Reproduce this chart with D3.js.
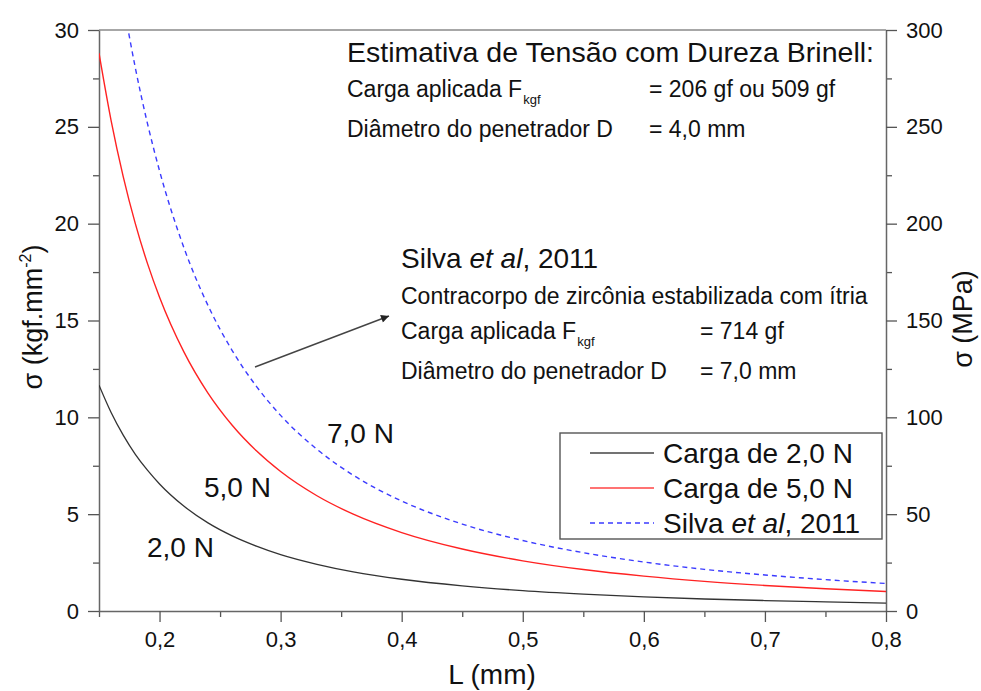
<!DOCTYPE html>
<html>
<head>
<meta charset="utf-8">
<script src="https://cdn.jsdelivr.net/npm/d3@7"></script>
<style>
  html, body { margin: 0; padding: 0; background: #fff; }
  svg { display: block; font-family: "Liberation Sans", Arial, sans-serif; }
</style>
</head>
<body>
<svg id="chart" width="981" height="691"></svg>
<script>
// Indentation width L (mm) and estimated stress σ (kgf/mm²)
const lengthL = [0.15, 0.16, 0.17, 0.18, 0.19, 0.20, 0.22, 0.24, 0.26, 0.28, 0.30, 0.33, 0.36, 0.40, 0.45, 0.50, 0.55, 0.60, 0.65, 0.70, 0.75, 0.80];
const stress2N = [11.66, 10.25, 9.08, 8.09, 7.27, 6.56, 5.42, 4.55, 3.88, 3.35, 2.91, 2.41, 2.02, 1.64, 1.30, 1.05, 0.87, 0.73, 0.62, 0.54, 0.47, 0.41];
const stress5N = [28.80, 25.32, 22.43, 20.00, 17.95, 16.20, 13.39, 11.25, 9.59, 8.27, 7.20, 5.95, 5.00, 4.05, 3.20, 2.59, 2.14, 1.80, 1.53, 1.32, 1.15, 1.01];
const stressSilva = [40.40, 35.51, 31.46, 28.05, 25.18, 22.73, 18.78, 15.78, 13.45, 11.60, 10.10, 8.35, 7.01, 5.68, 4.49, 3.64, 3.01, 2.53, 2.15, 1.86, 1.62, 1.42];

const xTicks = [0.2, 0.3, 0.4, 0.5, 0.6, 0.7, 0.8];
const yTicks = [0, 5, 10, 15, 20, 25, 30];
const yTicksMPa = [0, 50, 100, 150, 200, 250, 300];

const seriesNames = ["Carga de 2,0 N", "Carga de 5,0 N", "Silva et al, 2011"];

const svg = d3.select("#chart");
const m = { left: 99, right: 886, top: 30, bottom: 611 };
const ink = "#111";

const x = d3.scaleLinear().domain([0.15, 0.8]).range([m.left, m.right]);
const y = d3.scaleLinear().domain([0, 30]).range([m.bottom, m.top]);
const yR = d3.scaleLinear().domain([0, 300]).range([m.bottom, m.top]);

const fmt = d3.format(".1f");
const comma = v => fmt(v).replace(".", ",");

const defs = svg.append("defs");
defs.append("clipPath").attr("id", "plotClip")
  .append("rect").attr("x", m.left).attr("y", m.top)
  .attr("width", m.right - m.left).attr("height", m.bottom - m.top);

// frame top line
svg.append("line").attr("x1", m.left).attr("x2", m.right)
  .attr("y1", m.top).attr("y2", m.top)
  .attr("stroke", "#8a8a8a").attr("stroke-width", 1.5);

function styleAxis(g) {
  g.select(".domain").attr("stroke", "#666").attr("stroke-width", 1.5);
  g.selectAll(".tick line").attr("stroke", "#555").attr("stroke-width", 1.3);
  g.selectAll(".tick text").attr("fill", ink).style("font-size", "22px")
    .style("font-family", "'Liberation Sans', Arial, sans-serif");
}

// minor ticks
function minor(axisFn, scale, vals, size, g) {
  g.call(axisFn(scale).tickValues(vals).tickSize(size).tickFormat(""));
  g.select(".domain").remove();
  g.selectAll(".tick line").attr("stroke", "#555").attr("stroke-width", 1.3);
}

const xMinor = [0.15, 0.25, 0.35, 0.45, 0.55, 0.65, 0.75];
const yMinor = [2.5, 7.5, 12.5, 17.5, 22.5, 27.5];
const yMinorR = [25, 75, 125, 175, 225, 275];

minor(d3.axisBottom, x, xMinor, 6, svg.append("g").attr("transform", `translate(0,${m.bottom})`));
minor(d3.axisLeft, y, yMinor, 6, svg.append("g").attr("transform", `translate(${m.left},0)`));
minor(d3.axisRight, yR, yMinorR, 6, svg.append("g").attr("transform", `translate(${m.right},0)`));

const gx = svg.append("g").attr("transform", `translate(0,${m.bottom})`)
  .call(d3.axisBottom(x).tickValues(xTicks).tickSize(11).tickSizeOuter(0).tickPadding(9).tickFormat(comma));
styleAxis(gx);
const gy = svg.append("g").attr("transform", `translate(${m.left},0)`)
  .call(d3.axisLeft(y).tickValues(yTicks).tickSize(11).tickSizeOuter(0).tickPadding(9).tickFormat(d3.format("d")));
styleAxis(gy);
const gyR = svg.append("g").attr("transform", `translate(${m.right},0)`)
  .call(d3.axisRight(yR).tickValues(yTicksMPa).tickSize(11).tickSizeOuter(0).tickPadding(9).tickFormat(d3.format("d")));
styleAxis(gyR);

// axis titles
svg.append("text").attr("x", 492).attr("y", 684).attr("text-anchor", "middle")
  .style("font-size", "28px").attr("fill", ink).text("L (mm)");

const tl = svg.append("text").attr("transform", "translate(42,317) rotate(-90)")
  .attr("text-anchor", "middle").style("font-size", "27px").attr("fill", ink);
tl.append("tspan").text("σ (kgf.mm");
tl.append("tspan").attr("dy", -11).style("font-size", "16px").text("-2");
tl.append("tspan").attr("dy", 11).text(")");

svg.append("text").attr("transform", "translate(972,319) rotate(-90)")
  .attr("text-anchor", "middle").style("font-size", "27px").attr("fill", ink)
  .text("σ (MPa)");

// curves
const pts = vals => lengthL.map((l, i) => [l, vals[i]]);
const line = d3.line().x(d => x(d[0])).y(d => y(d[1])).curve(d3.curveMonotoneX);

const plot = svg.append("g").attr("clip-path", "url(#plotClip)");
plot.append("path").attr("d", line(pts(stressSilva))).attr("fill", "none")
  .attr("stroke", "#3b3bff").attr("stroke-width", 1.4).attr("stroke-dasharray", "5,4");
plot.append("path").attr("d", line(pts(stress5N))).attr("fill", "none")
  .attr("stroke", "#ff2222").attr("stroke-width", 1.4);
plot.append("path").attr("d", line(pts(stress2N))).attr("fill", "none")
  .attr("stroke", "#333").attr("stroke-width", 1.3);

// curve labels
const lbl = (tx, ty, t) => svg.append("text").attr("x", tx).attr("y", ty)
  .style("font-size", "28px").attr("fill", ink).text(t);
lbl(327, 443, "7,0 N");
lbl(204, 497, "5,0 N");
lbl(147, 557, "2,0 N");

// annotation blocks
const small = 23;
function plain(tx, ty, t, size) {
  return svg.append("text").attr("x", tx).attr("y", ty)
    .style("font-size", size + "px").attr("fill", ink).text(t);
}
function subLine(tx, ty, main, sub) {
  const t = svg.append("text").attr("x", tx).attr("y", ty)
    .style("font-size", small + "px").attr("fill", ink);
  t.append("tspan").text(main);
  t.append("tspan").attr("dy", 7).attr("dx", 1).style("font-size", "13px").text(sub);
}
plain(347, 62, "Estimativa de Tensão com Dureza Brinell:", 28.5);
subLine(347, 97, "Carga aplicada F", "kgf");
plain(649, 97, "= 206 gf ou 509 gf", small);
plain(347, 137, "Diâmetro do penetrador D", small);
plain(649, 137, "= 4,0 mm", small);

const st = svg.append("text").attr("x", 401).attr("y", 268).style("font-size", "28px").attr("fill", ink);
st.append("tspan").text("Silva ");
st.append("tspan").style("font-style", "italic").text("et al");
st.append("tspan").text(", 2011");
plain(401, 304, "Contracorpo de zircônia estabilizada com ítria", small);
subLine(401, 339, "Carga aplicada F", "kgf");
plain(700, 339, "= 714 gf", small);
plain(401, 379, "Diâmetro do penetrador D", small);
plain(700, 379, "= 7,0 mm", small);

// arrow
defs.append("marker").attr("id", "arrowHead")
  .attr("viewBox", "0 0 10 10").attr("refX", 10).attr("refY", 5)
  .attr("markerWidth", 14).attr("markerHeight", 8).attr("markerUnits", "userSpaceOnUse")
  .attr("orient", "auto")
  .append("path").attr("d", "M0,0 L10,5 L0,10 Z").attr("fill", "#222");
svg.append("line").attr("x1", 255).attr("y1", 367).attr("x2", 389).attr("y2", 316)
  .attr("stroke", "#444").attr("stroke-width", 1.4).attr("marker-end", "url(#arrowHead)");

// legend
const lg = svg.append("g");
lg.append("rect").attr("x", 560).attr("y", 433).attr("width", 322).attr("height", 106)
  .attr("fill", "#fff").attr("stroke", "#555").attr("stroke-width", 1.4);
const legendStyles = [
  { c: "#444", d: null, w: 1.3 },
  { c: "#ff4444", d: null, w: 1.4 },
  { c: "#3b3bff", d: "5,4", w: 1.4 }
];
seriesNames.forEach((name, i) => {
  const ly = 453 + i * 35;
  lg.append("line").attr("x1", 590).attr("x2", 654).attr("y1", ly).attr("y2", ly)
    .attr("stroke", legendStyles[i].c).attr("stroke-width", legendStyles[i].w)
    .attr("stroke-dasharray", legendStyles[i].d);
  const t = lg.append("text").attr("x", 663).attr("y", ly + 10).style("font-size", "28px").attr("fill", ink);
  if (i === 2) {
    t.append("tspan").text("Silva ");
    t.append("tspan").style("font-style", "italic").text("et al");
    t.append("tspan").text(", 2011");
  } else {
    t.text(name);
  }
});
</script>
</body>
</html>
